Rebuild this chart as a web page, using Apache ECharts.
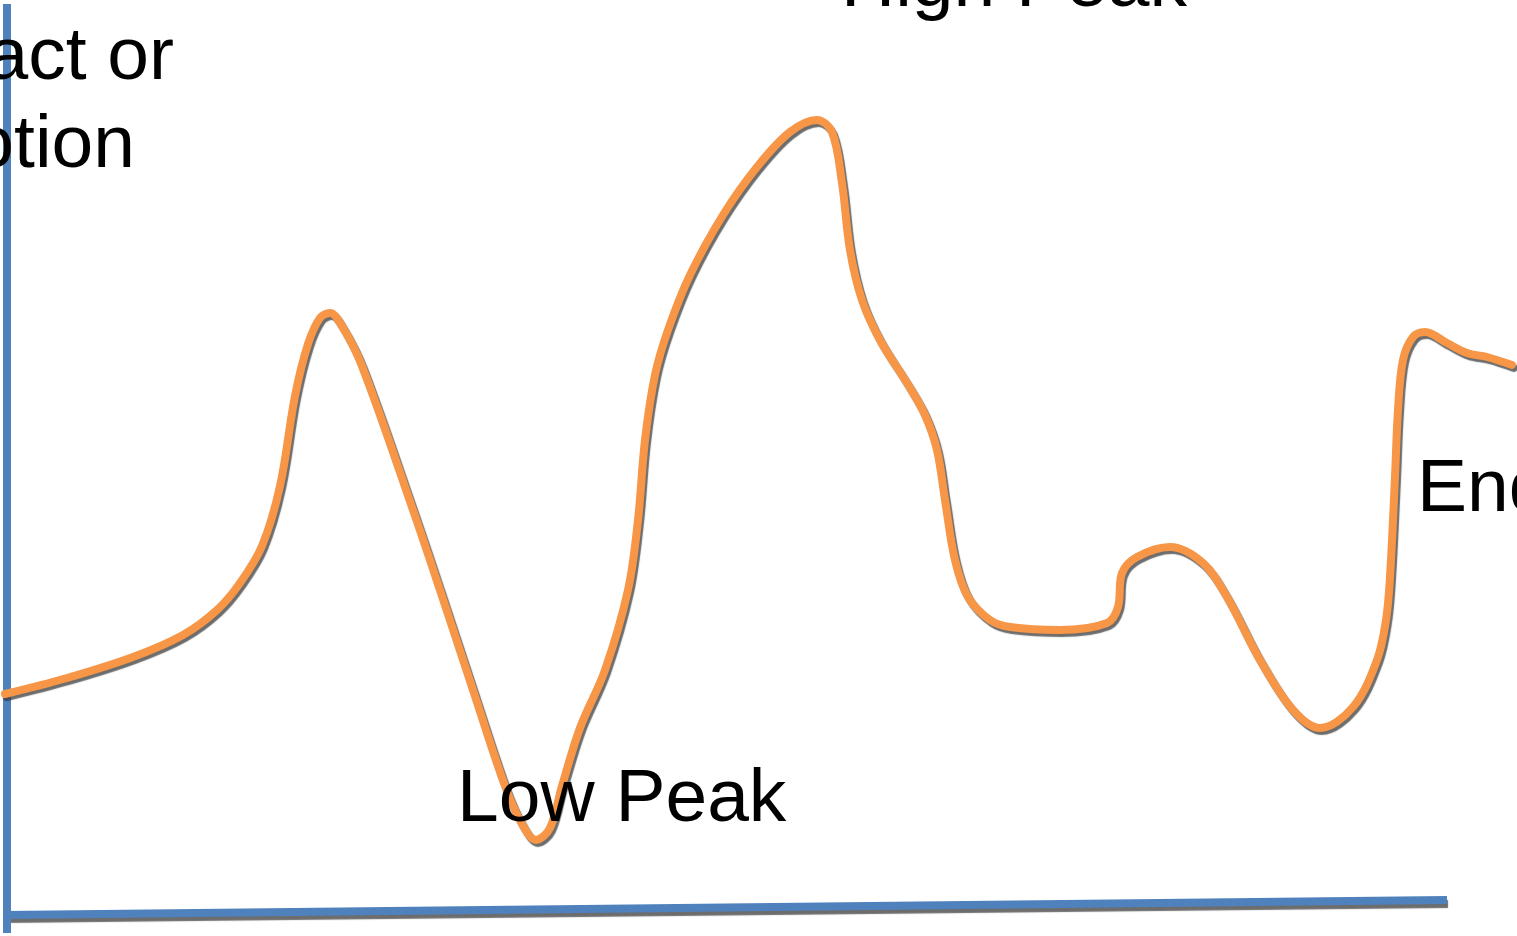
<!DOCTYPE html>
<html>
<head>
    <meta charset="utf-8">
    <title>High Peak / Low Peak</title>
    <script src="https://cdn.jsdelivr.net/npm/echarts@6/dist/echarts.min.js"></script>
    <style>
        html, body { margin: 0; padding: 0; background: #fff; }
    </style>
</head>
<body>
    <div id="main" style="width: 1517px;height:936px;"></div>
    <script>
        // curve: time (x) and level (y), level measured upward from the bottom of the plot
        var curveX = [5, 67, 133, 183, 217, 240, 262, 280, 295, 308, 320, 330, 342, 362, 413, 440, 473,
            505, 522, 536, 550, 562, 580, 605, 628, 638, 645, 655, 668, 690, 723, 757, 790, 817, 832, 842, 850,
            862, 880, 907, 925, 937, 945, 955, 968, 990, 1010, 1060, 1107, 1118, 1122, 1137, 1170, 1203, 1227, 1260, 1293,
            1320, 1353, 1377, 1386, 1390, 1395, 1398, 1403, 1413, 1425, 1447, 1467, 1487, 1512];
        var curveY = [242, 258, 279, 301, 326, 353, 390, 450, 540, 592, 618, 623, 610, 570, 426, 346, 246,
            150, 112, 96, 108, 150, 208, 266, 346, 416, 496, 561, 606, 661, 721, 769, 804, 816, 804, 753, 686,
            636, 596, 553, 521, 486, 436, 376, 339, 316, 309, 306, 313, 329, 363, 379, 389, 373, 339, 276, 226,
            208, 229, 276, 316, 359, 459, 526, 576, 599, 604, 593, 583, 579, 571];

        // hand drawn axes (slightly slanted base line)
        var yAxisLineX = [7, 7];
        var yAxisLineY = [932, 3];
        var xAxisLineX = [4, 1447];
        var xAxisLineY = [21, 36];

        function pairs(xs, ys) {
            return xs.map(function (x, i) { return [x, ys[i]]; });
        }

        var myChart = echarts.init(document.getElementById('main'));

        var font = '"Liberation Sans", Arial, sans-serif';
        function label(text, x, y, align) {
            return {
                type: 'text',
                x: x,
                y: y,
                style: {
                    text: text,
                    fill: '#000',
                    font: '75px ' + font,
                    align: align || 'left',
                    verticalAlign: 'middle'
                },
                z: 10
            };
        }

        option = {
            backgroundColor: '#ffffff',
            animation: false,
            grid: { left: 0, right: 0, top: 0, bottom: 0 },
            xAxis: { type: 'value', min: 0, max: 1517, show: false },
            yAxis: { type: 'value', min: 0, max: 936, show: false },
            series: [
                {
                    type: 'line',
                    data: pairs(xAxisLineX, xAxisLineY),
                    symbol: 'none',
                    lineStyle: {
                        color: '#4F81BD', width: 8,
                        shadowColor: 'rgba(60,60,60,0.75)', shadowBlur: 1, shadowOffsetX: 1, shadowOffsetY: 4
                    },
                    z: 2
                },
                {
                    type: 'line',
                    data: pairs(yAxisLineX, yAxisLineY),
                    symbol: 'none',
                    lineStyle: { color: '#4F81BD', width: 8 },
                    z: 3
                },
                {
                    type: 'line',
                    data: pairs(curveX, curveY),
                    symbol: 'none',
                    smooth: 0.35,
                    lineStyle: {
                        color: '#F79646', width: 8, cap: 'round', join: 'round',
                        shadowColor: 'rgba(60,60,60,0.75)', shadowBlur: 1, shadowOffsetX: 2, shadowOffsetY: 3
                    },
                    z: 4
                }
            ],
            graphic: [
                label('High Peak', 841, -15),
                label('Low Peak', 457, 800),
                label('Impact or', 174, 58, 'right'),
                label('Emotion', 135, 146, 'right'),
                label('End', 1417, 490)
            ]
        };

        myChart.setOption(option);
    </script>
</body>
</html>
